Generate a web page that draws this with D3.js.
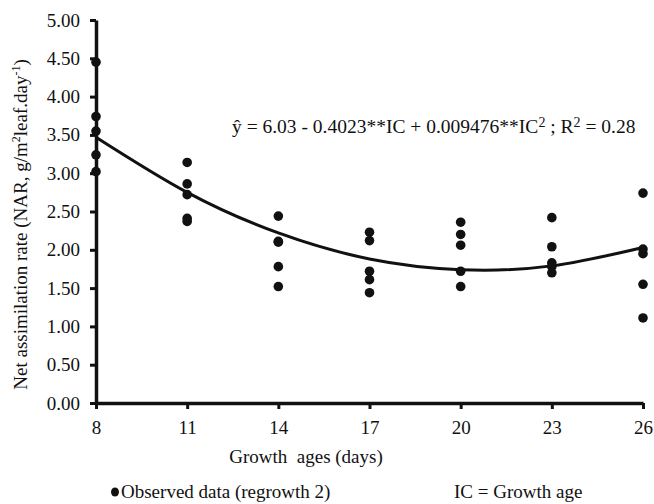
<!DOCTYPE html>
<html lang="en">
<head>
  <meta charset="UTF-8">
  <title>Net assimilation rate</title>
  <script src="https://d3js.org/d3.v7.min.js"></script>
  <style>
    body { margin: 0; background: #fff; }
    text { font-family: "Liberation Serif", "Times New Roman", serif; fill: #111; }
    .axis path, .axis line { stroke: #111; }
  </style>
</head>
<body>
  <div id="chart"></div>
  <script>
    const width = 654, height = 504;

    // growth ages (days)
    const ages = [8, 11, 14, 17, 20, 23, 26];
    // observed NAR values at each age (regrowth 2)
    const obs8 = [4.45, 3.74, 3.55, 3.24, 3.02];
    const obs11 = [3.14, 2.86, 2.72, 2.41, 2.37];
    const obs14 = [2.44, 2.11, 2.10, 1.78, 1.52];
    const obs17 = [2.23, 2.12, 1.72, 1.61, 1.44];
    const obs20 = [2.36, 2.20, 2.06, 1.72, 1.52];
    const obs23 = [2.42, 2.04, 1.83, 1.78, 1.70];
    const obs26 = [2.74, 2.01, 1.95, 1.55, 1.11];
    const observed = [obs8, obs11, obs14, obs17, obs20, obs23, obs26];
    // fitted curve read at each age
    const fitted = [3.47, 2.75, 2.22, 1.88, 1.74, 1.79, 2.03];
    const yTicks = [0, 0.5, 1, 1.5, 2, 2.5, 3, 3.5, 4, 4.5, 5];

    const margin = { left: 96, right: 11, top: 20, bottom: 101 };

    const svg = d3.select("#chart").append("svg")
      .attr("width", width)
      .attr("height", height);

    const x = d3.scaleLinear().domain([8, 26]).range([margin.left, width - margin.right]);
    const y = d3.scaleLinear().domain([0, 5]).range([height - margin.bottom, margin.top]);

    // y axis
    const yAxis = svg.append("g")
      .attr("class", "axis")
      .attr("transform", `translate(${margin.left},0)`)
      .call(d3.axisLeft(y).tickValues(yTicks).tickFormat(d3.format(".2f")).tickSize(6).tickPadding(10).tickSizeOuter(0));
    yAxis.select(".domain").attr("stroke-width", 3.5);
    yAxis.selectAll("line").attr("stroke-width", 3);
    yAxis.selectAll("text").style("font-size", "19px").attr("fill", "#111");

    // x axis
    const xAxis = svg.append("g")
      .attr("class", "axis")
      .attr("transform", `translate(0,${y(0)})`)
      .call(d3.axisBottom(x).tickValues(ages).tickSize(6).tickPadding(12).tickSizeOuter(0));
    xAxis.select(".domain").attr("stroke-width", 3.5);
    xAxis.selectAll("line").attr("stroke-width", 3);
    xAxis.selectAll("text").style("font-size", "19px").attr("fill", "#111");

    // fitted curve
    const line = d3.line()
      .x((d, i) => x(ages[i]))
      .y(d => y(d))
      .curve(d3.curveNatural);
    svg.append("path")
      .datum(fitted)
      .attr("fill", "none")
      .attr("stroke", "#111")
      .attr("stroke-width", 3)
      .attr("d", line);

    // observed points
    const pts = [];
    observed.forEach((vals, i) => vals.forEach(v => pts.push({ age: ages[i], v: v })));
    svg.append("g").selectAll("circle")
      .data(pts)
      .enter().append("circle")
      .attr("cx", d => x(d.age))
      .attr("cy", d => y(d.v))
      .attr("r", 4.8)
      .attr("fill", "#111");

    // equation
    const eq = svg.append("text")
      .attr("x", 232)
      .attr("y", 133)
      .attr("xml:space", "preserve")
      .style("white-space", "pre")
      .style("font-size", "19.5px");
    eq.append("tspan").text("\u0177 = 6.03 - 0.4023**IC + 0.009476**IC");
    eq.append("tspan").attr("dy", -6).style("font-size", "14px").text("2");
    eq.append("tspan").attr("dy", 6).text(" ; R");
    eq.append("tspan").attr("dy", -6).style("font-size", "14px").text("2");
    eq.append("tspan").attr("dy", 6).text(" = 0.28");

    // y axis title
    const yt = svg.append("text")
      .attr("transform", `translate(27,${(y(0) + y(5)) / 2 + 13}) rotate(-90)`)
      .attr("text-anchor", "middle")
      .style("font-size", "19px");
    yt.append("tspan").text("Net assimilation rate (NAR, g/m");
    yt.append("tspan").attr("dy", -7).style("font-size", "12px").text("2");
    yt.append("tspan").attr("dy", 7).text("leaf.day");
    yt.append("tspan").attr("dy", -7).style("font-size", "12px").text("-1");
    yt.append("tspan").attr("dy", 7).text(")");

    // x axis title
    svg.append("text")
      .attr("x", 306)
      .attr("y", 463)
      .attr("text-anchor", "middle")
      .attr("xml:space", "preserve")
      .style("white-space", "pre")
      .style("font-size", "19px")
      .text("Growth  ages (days)");

    // legend
    svg.append("ellipse").attr("cx", 115).attr("cy", 492).attr("rx", 4).attr("ry", 4.6).attr("fill", "#111");
    svg.append("text").attr("x", 121).attr("y", 498).style("font-size", "19px").text("Observed data (regrowth 2)");
    svg.append("text").attr("x", 454).attr("y", 498).style("font-size", "19px").text("IC = Growth age");
  </script>
</body>
</html>
